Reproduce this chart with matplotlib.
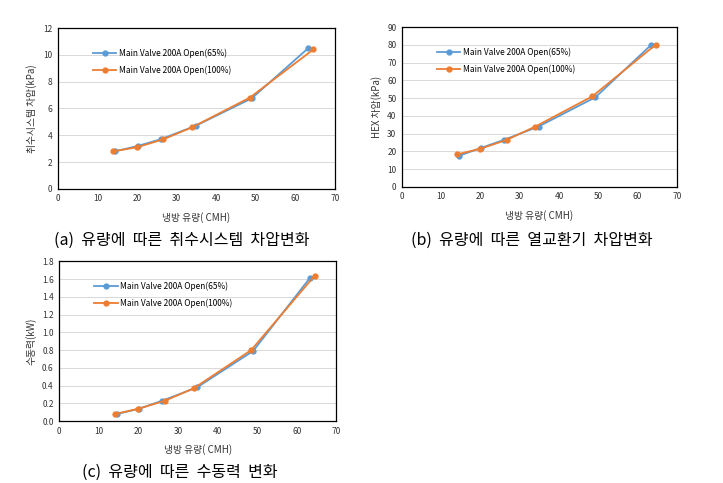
import matplotlib
matplotlib.use("Agg")
import matplotlib.pyplot as plt

plt.rcParams['font.family'] = ['Noto Sans CJK KR', 'DejaVu Sans']

# flow rate (CMH) for each series
flow_65 = [14.5, 20.2, 26.0, 34.8, 49.0, 63.3]
flow_100 = [14.0, 20.0, 26.7, 34.0, 48.5, 64.6]

# (a) intake system pressure drop (kPa)
intake_65 = [2.8, 3.2, 3.7, 4.7, 6.75, 10.5]
intake_100 = [2.8, 3.1, 3.7, 4.6, 6.8, 10.4]

# (b) HEX pressure drop (kPa)
flow_hex_65 = [14.5, 20.2, 26.0, 34.8, 49.3, 63.5]
hex_65 = [17.5, 22.0, 26.5, 34.0, 50.5, 80.0]
hex_100 = [18.3, 21.5, 26.5, 34.0, 51.0, 80.0]

# (c) pump power (kW)
power_65 = [0.08, 0.14, 0.23, 0.38, 0.79, 1.61]
power_100 = [0.08, 0.14, 0.23, 0.37, 0.80, 1.64]

label_65 = "Main Valve 200A Open(65%)"
label_100 = "Main Valve 200A Open(100%)"
xlabel = "냉방 유량( CMH)"

BLUE = "#5B9BD5"
ORANGE = "#ED7D31"

fig = plt.figure(figsize=(7.23, 4.83), dpi=100)


def draw(rect, x1, y1, x2, y2, ylim, yticks, ylabel, fmt):
    ax = fig.add_axes(rect)
    ax.plot(x1, y1, color=BLUE, marker='o', markersize=3.5, lw=1.3, label=label_65)
    ax.plot(x2, y2, color=ORANGE, marker='o', markersize=3.5, lw=1.3, label=label_100)
    ax.set_xlim(0, 70)
    ax.set_ylim(*ylim)
    ax.set_xticks(range(0, 71, 10))
    ax.set_yticks(yticks)
    ax.set_yticklabels([fmt.format(t) for t in yticks])
    ax.grid(axis='y', color='#d9d9d9', lw=0.7)
    ax.set_axisbelow(True)
    for s in ax.spines.values():
        s.set_color('black')
        s.set_linewidth(0.9)
    ax.tick_params(length=0, labelsize=6, colors='#333333', pad=4)
    ax.set_xlabel(xlabel, fontsize=7, color='#333333', labelpad=6)
    ax.set_ylabel(ylabel, fontsize=7, color='#333333', labelpad=4)
    ax.legend(loc='upper left', bbox_to_anchor=(0.1, 0.92), frameon=False,
              fontsize=6, handlelength=2.8, labelspacing=0.9, handletextpad=0.3)
    return ax


draw([0.080, 0.609, 0.383, 0.333], flow_65, intake_65, flow_100, intake_100,
     (0, 12), list(range(0, 13, 2)), "취수시스템 차압(kPa)", "{:d}")
draw([0.556, 0.613, 0.380, 0.331], flow_hex_65, hex_65, flow_100, hex_100,
     (0, 90), list(range(0, 91, 10)), "HEX 차압(kPa)", "{:d}")
draw([0.082, 0.128, 0.383, 0.331], flow_65, power_65, flow_100, power_100,
     (0, 1.8), [i * 0.2 for i in range(10)], "수동력(kW)", "{:.1f}")

fig.text(0.252, 0.503, "(a)  유량에  따른  취수시스템  차압변화", ha='center', va='center', fontsize=11.5)
fig.text(0.736, 0.503, "(b)  유량에  따른  열교환기  차압변화", ha='center', va='center', fontsize=11.5)
fig.text(0.249, 0.023, "(c)  유량에  따른  수동력  변화", ha='center', va='center', fontsize=11.5)

fig.savefig("out.png", dpi=100)
